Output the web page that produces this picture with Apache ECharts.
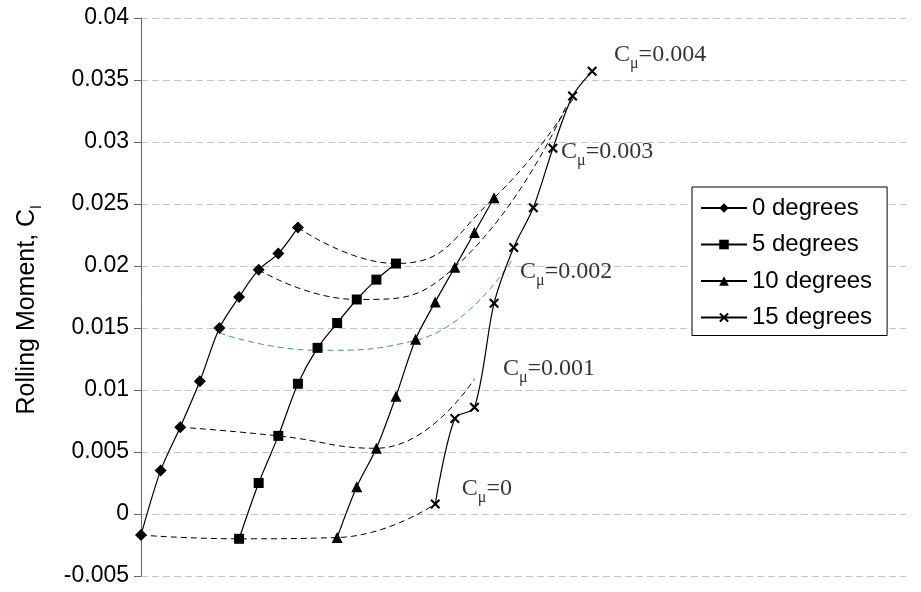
<!DOCTYPE html>
<html>
<head>
<meta charset="utf-8">
<script src="https://cdn.jsdelivr.net/npm/echarts@6/dist/echarts.min.js"></script>
<style>html,body{margin:0;padding:0;background:#fff;}#c{width:921px;height:592px;}</style>
</head>
<body>
<div id="c"></div>
<script>
// Carpet-plot horizontal positions (hidden axis units) and rolling moment values
var seriesNames = ['0 degrees', '5 degrees', '10 degrees', '15 degrees'];
var x0 = [0, 1, 2, 3, 4, 5, 6, 7, 8];
var y0 = [-0.0017, 0.0035, 0.0070, 0.0107, 0.0150, 0.0175, 0.0197, 0.0210, 0.0231];
var x5 = [5, 6, 7, 8, 9, 10, 11, 12, 13];
var y5 = [-0.0020, 0.0025, 0.0063, 0.0105, 0.0134, 0.0154, 0.0173, 0.0189, 0.0202];
var x10 = [10, 11, 12, 13, 14, 15, 16, 17, 18];
var y10 = [-0.0019, 0.0022, 0.0053, 0.0095, 0.0141, 0.0171, 0.0199, 0.0227, 0.0255];
var x15 = [15, 16, 17, 18, 19, 20, 21, 22, 23];
var y15 = [0.0008, 0.0077, 0.0086, 0.0170, 0.0215, 0.0247, 0.0295, 0.0337, 0.0357];

// Constant blowing-coefficient lines (dashed)
var cmuNames = ['0', '0.001', '0.002', '0.003', '0.004'];
var cmuX0 = [0, 5, 10, 15];
var cmuY0 = [-0.0017, -0.0020, -0.0019, 0.0008];
var cmuX1 = [2, 7, 12, 17];
var cmuY1 = [0.0070, 0.0063, 0.0053, 0.0109];
var cmuX2 = [4, 9, 14, 19];
var cmuY2 = [0.0146, 0.0132, 0.0140, 0.0207];
var cmuX3 = [6, 11, 16, 21.7];
var cmuY3 = [0.0197, 0.0173, 0.0199, 0.0330];
var cmuX4 = [8, 13, 18, 22.1];
var cmuY4 = [0.0231, 0.0202, 0.0255, 0.0337];

// Annotation anchor positions
var annoX = [16.1, 18.2, 19.07, 21.16, 23.86];
var annoY = [0.00185, 0.01153, 0.01935, 0.02903, 0.03685];

var yTicks = {min: -0.005, max: 0.04, interval: 0.005};

function zip(xs, ys) { return xs.map(function (x, i) { return [x, ys[i]]; }); }

var crossPath = 'path://M1.5,0L5,3.5L8.5,0L10,1.5L6.5,5L10,8.5L8.5,10L5,6.5L1.5,10L0,8.5L3.5,5L0,1.5Z';
var symbols = ['diamond', 'rect', 'triangle', crossPath];
var symSizes = [12, 10, 11, 10];
var xs = [x0, x5, x10, x15];
var ys = [y0, y5, y10, y15];
var cmuXs = [cmuX0, cmuX1, cmuX2, cmuX3, cmuX4];
var cmuYs = [cmuY0, cmuY1, cmuY2, cmuY3, cmuY4];

var series = [];
cmuNames.forEach(function (n, i) {
  series.push({
    name: 'Cmu=' + n,
    type: 'line',
    data: zip(cmuXs[i], cmuYs[i]),
    smooth: 0.5,
    showSymbol: false,
    symbol: 'none',
    z: 1,
    silent: true,
    lineStyle: {color: i === 2 ? '#2f9c9c' : '#000', width: 1, type: [6, 4]}
  });
});
seriesNames.forEach(function (n, i) {
  series.push({
    name: n,
    type: 'line',
    data: zip(xs[i], ys[i]),
    smooth: 0.3,
    symbol: symbols[i],
    symbolSize: symSizes[i],
    z: 3,
    itemStyle: {color: '#000', borderWidth: 0},
    lineStyle: {color: '#000', width: 1.2}
  });
});
series.push({
  name: 'labels',
  type: 'scatter',
  symbolSize: 0,
  z: 4,
  silent: true,
  data: annoX.map(function (x, i) {
    return {value: [x, annoY[i]], label: {formatter: '{m|C}{s|μ}{m|=' + cmuNames[i] + '}'}};
  }),
  label: {
    show: true,
    position: 'right',
    distance: 5,
    rich: {
      m: {fontFamily: 'Liberation Serif', fontSize: 24, color: '#000', verticalAlign: 'bottom', padding: [0, 0, 5, 0]},
      s: {fontFamily: 'Liberation Serif', fontSize: 16, color: '#000', verticalAlign: 'bottom'}
    }
  }
});

var chart = echarts.init(document.getElementById('c'), null, {renderer: 'canvas'});
chart.setOption({
  backgroundColor: '#fff',
  animation: false,
  grid: {left: 141, right: 15, top: 18, bottom: 16},
  xAxis: {
    type: 'value', min: 0, max: 39,
    show: false
  },
  yAxis: {
    type: 'value', min: yTicks.min, max: yTicks.max, interval: yTicks.interval,
    axisLine: {show: true, lineStyle: {color: '#666', width: 1}},
    axisTick: {show: true, length: 7, lineStyle: {color: '#666'}},
    axisLabel: {color: '#000', fontFamily: 'Liberation Sans', fontSize: 23, margin: 12},
    splitLine: {show: true, lineStyle: {color: '#c4c4c4', width: 1, type: [7, 4]}},
    name: '{n|Rolling Moment, C}{s|l}',
    nameLocation: 'middle',
    nameGap: 97,
    nameTextStyle: {
      padding: [0, 26, 0, 0],
      rich: {
        n: {fontFamily: 'Liberation Sans', fontSize: 25, color: '#000', verticalAlign: 'bottom', padding: [0, 0, 4, 0]},
        s: {fontFamily: 'Liberation Sans', fontSize: 15, color: '#000', verticalAlign: 'bottom'}
      }
    }
  },
  legend: {
    data: seriesNames,
    orient: 'vertical',
    left: 692, top: 187,
    padding: [9, 15, 6, 8],
    itemGap: 12.5,
    itemWidth: 46,
    itemHeight: 12,
    borderColor: '#000',
    borderWidth: 1,
    backgroundColor: '#fff',
    textStyle: {fontFamily: 'Liberation Sans', fontSize: 24, color: '#000'}
  },
  series: series
});
</script>
</body>
</html>
